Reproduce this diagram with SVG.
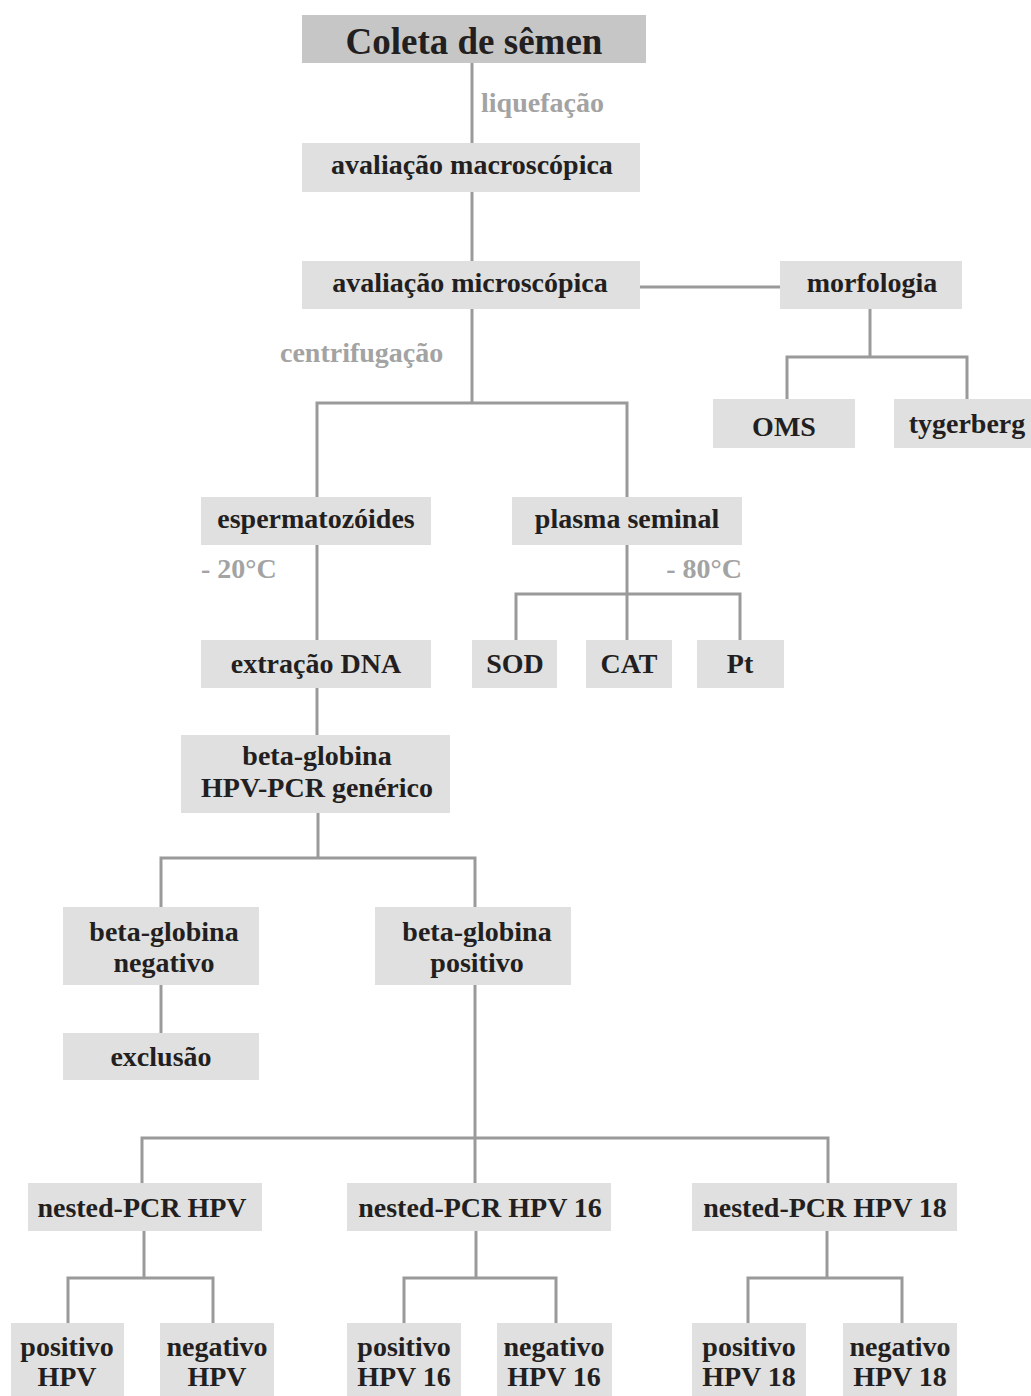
<svg xmlns="http://www.w3.org/2000/svg" width="1031" height="1396" viewBox="0 0 1031 1396">
<style>
.box{fill:#e0e0e0}
.tbox{fill:#c6c6c6}
.t{font-family:"Liberation Serif","Times New Roman",serif;font-weight:bold;font-size:28px;fill:#231f20;text-anchor:middle}
.title{font-size:37px}
.note{font-family:"Liberation Serif","Times New Roman",serif;font-weight:bold;font-size:28px;fill:#a3a3a3}
.conn{fill:none;stroke:#9a9a9a;stroke-width:3}
</style>
<rect width="1031" height="1396" fill="#ffffff"/>
<g id="connectors" class="conn">
<path d="M472,63V143"/>
<path d="M472,192V261"/>
<path d="M640,287H780"/>
<path d="M472,309V403"/>
<path d="M317,497V403H627V497"/>
<path d="M870,309V357"/>
<path d="M787,399V357H967V399"/>
<path d="M317,545V640"/>
<path d="M627,545V640"/>
<path d="M516,640V594H740V640"/>
<path d="M317,688V735"/>
<path d="M318,813V858"/>
<path d="M161,907V858H475V907"/>
<path d="M161,985V1033"/>
<path d="M475,985V1183"/>
<path d="M142,1183V1138H828V1183"/>
<path d="M144,1231V1278"/>
<path d="M68,1323V1278H213V1323"/>
<path d="M476,1231V1278"/>
<path d="M404,1323V1278H556V1323"/>
<path d="M827,1231V1278"/>
<path d="M748,1323V1278H902V1323"/>
</g>
<g id="labels">
<text class="note" x="481" y="112">liquefação</text>
<text class="note" x="280" y="362">centrifugação</text>
<text class="note" x="201" y="578">- 20°C</text>
<text class="note" x="742" y="578" text-anchor="end">- 80°C</text>
</g>
<g id="coleta"><rect class="tbox" x="302" y="15" width="344" height="48"/><text class="t title" x="474" y="54">Coleta de sêmen</text></g>
<g id="macro"><rect class="box" x="302" y="143" width="338" height="49"/><text class="t" x="472" y="174">avaliação macroscópica</text></g>
<g id="micro"><rect class="box" x="302" y="261" width="338" height="48"/><text class="t" x="470" y="292">avaliação microscópica</text></g>
<g id="morfologia"><rect class="box" x="780" y="261" width="182" height="48"/><text class="t" x="872" y="292">morfologia</text></g>
<g id="oms"><rect class="box" x="713" y="399" width="142" height="49"/><text class="t" x="784" y="436">OMS</text></g>
<g id="tygerberg"><rect class="box" x="894" y="399" width="137" height="49"/><text class="t" x="967" y="433">tygerberg</text></g>
<g id="espermatozoides"><rect class="box" x="201" y="497" width="230" height="48"/><text class="t" x="316" y="528">espermatozóides</text></g>
<g id="plasma"><rect class="box" x="512" y="497" width="230" height="48"/><text class="t" x="627" y="528">plasma seminal</text></g>
<g id="extracao"><rect class="box" x="201" y="640" width="230" height="48"/><text class="t" x="316" y="673">extração DNA</text></g>
<g id="sod"><rect class="box" x="472" y="640" width="85" height="48"/><text class="t" x="515" y="673">SOD</text></g>
<g id="cat"><rect class="box" x="586" y="640" width="86" height="48"/><text class="t" x="629" y="673">CAT</text></g>
<g id="pt"><rect class="box" x="697" y="640" width="87" height="48"/><text class="t" x="740" y="673">Pt</text></g>
<g id="betaglobina"><rect class="box" x="181" y="735" width="269" height="78"/><text class="t" x="317" y="765">beta-globina</text><text class="t" x="317" y="797">HPV-PCR genérico</text></g>
<g id="bg-negativo"><rect class="box" x="63" y="907" width="196" height="78"/><text class="t" x="164" y="941">beta-globina</text><text class="t" x="164" y="972">negativo</text></g>
<g id="bg-positivo"><rect class="box" x="375" y="907" width="196" height="78"/><text class="t" x="477" y="941">beta-globina</text><text class="t" x="477" y="972">positivo</text></g>
<g id="exclusao"><rect class="box" x="63" y="1033" width="196" height="47"/><text class="t" x="161" y="1066">exclusão</text></g>
<g id="nested-hpv"><rect class="box" x="28" y="1183" width="234" height="48"/><text class="t" x="142" y="1217">nested-PCR HPV</text></g>
<g id="nested-hpv16"><rect class="box" x="347" y="1183" width="264" height="48"/><text class="t" x="480" y="1217">nested-PCR HPV 16</text></g>
<g id="nested-hpv18"><rect class="box" x="692" y="1183" width="265" height="48"/><text class="t" x="825" y="1217">nested-PCR HPV 18</text></g>
<g id="pos-hpv"><rect class="box" x="11" y="1323" width="113" height="80"/><text class="t" x="67" y="1356">positivo</text><text class="t" x="67" y="1386">HPV</text></g>
<g id="neg-hpv"><rect class="box" x="160" y="1323" width="114" height="80"/><text class="t" x="217" y="1356">negativo</text><text class="t" x="217" y="1386">HPV</text></g>
<g id="pos-hpv16"><rect class="box" x="347" y="1323" width="114" height="80"/><text class="t" x="404" y="1356">positivo</text><text class="t" x="404" y="1386">HPV 16</text></g>
<g id="neg-hpv16"><rect class="box" x="497" y="1323" width="115" height="80"/><text class="t" x="554" y="1356">negativo</text><text class="t" x="554" y="1386">HPV 16</text></g>
<g id="pos-hpv18"><rect class="box" x="692" y="1323" width="114" height="80"/><text class="t" x="749" y="1356">positivo</text><text class="t" x="749" y="1386">HPV 18</text></g>
<g id="neg-hpv18"><rect class="box" x="843" y="1323" width="114" height="80"/><text class="t" x="900" y="1356">negativo</text><text class="t" x="900" y="1386">HPV 18</text></g>
</svg>
